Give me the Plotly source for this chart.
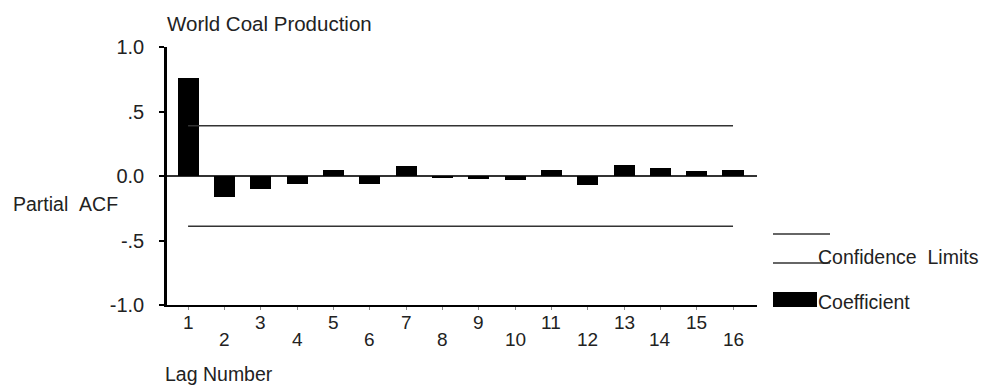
import plotly.graph_objects as go

lags = list(range(1, 17))
pacf = [0.76, -0.16, -0.10, -0.06, 0.05, -0.065, 0.08, -0.01,
        -0.02, -0.03, 0.05, -0.07, 0.085, 0.065, 0.04, 0.05]
upper_limit = [0.39] * 16
lower_limit = [-0.39] * 16
y_tickvals = [1.0, 0.5, 0.0, -0.5, -1.0]
y_ticktext = ["1.0", ".5", "0.0", "-.5", "-1.0"]
lag_labels = [str(v) for v in lags]

FONT = "Liberation Sans, Arial, sans-serif"
TXT = "#222222"
W, H = 987, 387
L, R, T, B = 167, 757, 47, 305

def px(x):
    return (x - L) / (R - L)

def py(y):
    return (B - y) / (B - T)

fig = go.Figure()
fig.add_trace(go.Bar(x=lags, y=pacf, width=0.58, marker=dict(color="black", line=dict(width=0)),
                     showlegend=False, hoverinfo="x+y"))
fig.add_trace(go.Scatter(x=lags, y=upper_limit, mode="lines", line=dict(color="#333333", width=1.5),
                         showlegend=False))
fig.add_trace(go.Scatter(x=lags, y=lower_limit, mode="lines", line=dict(color="#333333", width=1.5),
                         showlegend=False))

annotations = []
for lag, lab in zip(lags, lag_labels):
    odd = lag % 2 == 1
    annotations.append(dict(x=lag, y=0, xref="x", yref="paper", text=lab, showarrow=False,
                            xanchor="center", yanchor="middle", yshift=-17 if odd else -34,
                            font=dict(family=FONT, size=19, color=TXT)))
annotations += [
    dict(x=px(165), y=py(23), xref="paper", yref="paper", text="World Coal Production", showarrow=False,
         xanchor="left", yanchor="middle", font=dict(family=FONT, size=20.5, color=TXT)),
    dict(x=px(11), y=py(204), xref="paper", yref="paper", text="Partial&nbsp;&nbsp;ACF", showarrow=False,
         xanchor="left", yanchor="middle", font=dict(family=FONT, size=19.5, color=TXT)),
    dict(x=px(163), y=py(374), xref="paper", yref="paper", text="Lag Number", showarrow=False,
         xanchor="left", yanchor="middle", font=dict(family=FONT, size=19.5, color=TXT)),
    dict(x=px(816), y=py(257), xref="paper", yref="paper", text="Confidence&nbsp;&nbsp;Limits", showarrow=False,
         xanchor="left", yanchor="middle", font=dict(family=FONT, size=19.5, color=TXT)),
    dict(x=px(816), y=py(302), xref="paper", yref="paper", text="Coefficient", showarrow=False,
         xanchor="left", yanchor="middle", font=dict(family=FONT, size=19.5, color=TXT)),
]

shapes = [
    dict(type="line", xref="paper", yref="paper", x0=px(773), x1=px(830), y0=py(234), y1=py(234),
         line=dict(color="#333333", width=1.5)),
    dict(type="line", xref="paper", yref="paper", x0=px(773), x1=px(830), y0=py(263), y1=py(263),
         line=dict(color="#333333", width=1.5)),
    dict(type="rect", xref="paper", yref="paper", x0=px(773), x1=px(817), y0=py(307), y1=py(292),
         fillcolor="black", line=dict(width=0)),
]

fig.update_layout(
    width=W, height=H,
    margin=dict(l=L, r=W - R, t=T, b=H - B, pad=0),
    paper_bgcolor="white", plot_bgcolor="white",
    font=dict(family=FONT, size=19, color=TXT),
    bargap=0,
    annotations=annotations,
    shapes=shapes,
    showlegend=False,
)
fig.update_xaxes(range=[0.42, 16.66], showgrid=False, zeroline=False,
                 showline=True, linecolor="black", linewidth=2,
                 tickvals=lags, showticklabels=False, ticks="outside", ticklen=3,
                 tickcolor="#888888", tickwidth=1)
fig.update_yaxes(range=[-1, 1], showgrid=False, zeroline=True, zerolinecolor="#333333", zerolinewidth=2,
                 showline=True, linecolor="black", linewidth=2.5,
                 tickvals=y_tickvals, ticktext=y_ticktext, ticks="outside", ticklen=5,
                 tickcolor="black", tickwidth=1.5, ticklabelstandoff=11,
                 tickfont=dict(family=FONT, size=20, color=TXT))

fig.write_html("out.html", config={"displayModeBar": False},
               post_script="document.body.style.margin='0';document.body.style.overflow='hidden';")
